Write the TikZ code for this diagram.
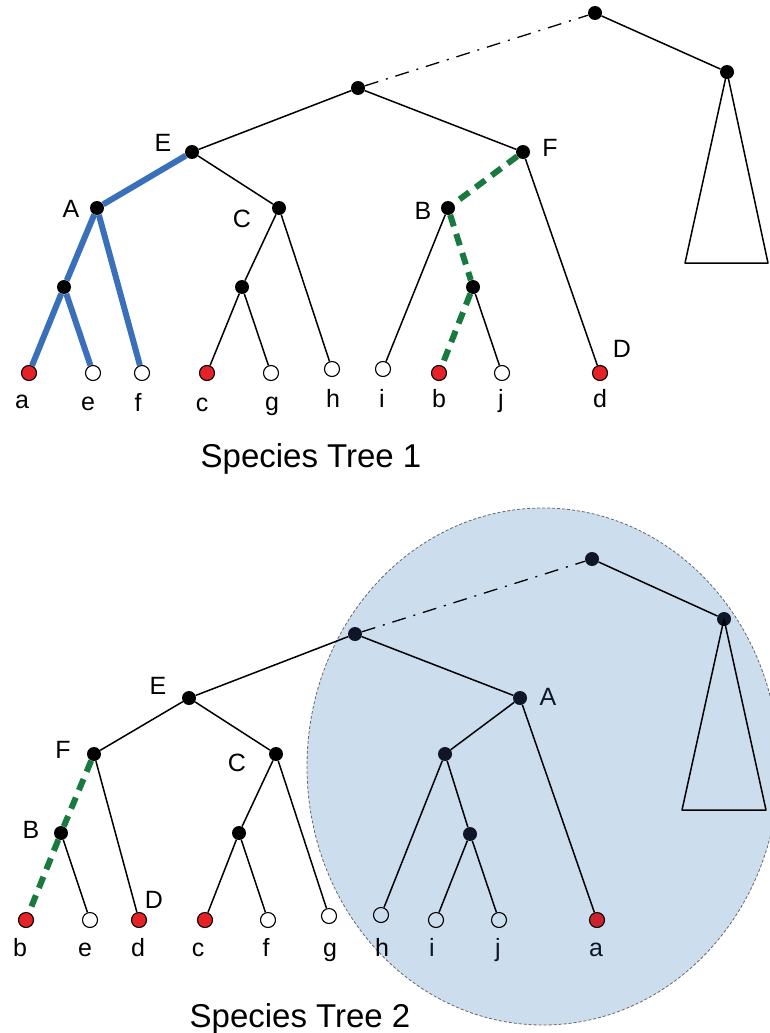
\documentclass[tikz,border=0pt]{standalone}
\usepackage{fontspec}
\setmainfont{Liberation Sans}
\usepackage{xcolor}
\usepackage{tikz}
\usetikzlibrary{positioning, arrows.meta, calc}
\definecolor{leafred}{HTML}{E52228}
\definecolor{pathblue}{HTML}{3A70BA}
\definecolor{pathgreen}{HTML}{187A3E}
\definecolor{hlfill}{HTML}{CCDDEE}
\definecolor{hlred}{HTML}{CD2230}
\definecolor{hlnavy}{HTML}{0E1628}

\begin{document}
\begin{tikzpicture}[x=1pt, y=-1pt,
    inner/.style={circle, fill=black, inner sep=0pt, minimum size=14pt},
    innerhl/.style={inner, fill=hlnavy},
    leaf/.style={circle, draw=black, line width=1.1pt, fill=white, inner sep=0pt, minimum size=15pt},
    leafhl/.style={leaf, fill=hlfill},
    hit/.style={leaf, fill=leafred},
    hithl/.style={leaf, fill=hlred},
    br/.style={line width=1.5pt, line join=round},
    blueline/.style={line width=6pt, pathblue},
    greenline/.style={line width=6pt, pathgreen, dash pattern=on 12pt off 8pt},
    link/.style={line width=1.3pt, dash pattern=on 14pt off 8pt on 2pt off 8pt},
    lab/.style={anchor=base, inner sep=0pt, font=\fontsize{25}{30}\selectfont},
    title/.style={anchor=base, inner sep=0pt, font=\fontsize{33}{40}\selectfont}
]
    \useasboundingbox (0,0) rectangle (769,1033);
    % Species Tree 1
    \node[inner] (s1top) at (595, 13) {};
    \node[inner] (s1R) at (727, 72) {};
    \coordinate (s1tl) at (685, 263);
    \coordinate (s1tr) at (768, 263);
    \node[inner] (s1root) at (358, 88) {};
    \node[inner] (s1E) at (192, 152) {};
    \node[inner] (s1F) at (523, 152) {};
    \node[inner] (s1A) at (97, 208) {};
    \node[inner] (s1C) at (279, 208) {};
    \node[inner] (s1B) at (448, 208) {};
    \node[inner] (s1Ac) at (64, 287) {};
    \node[inner] (s1Cc) at (242, 287) {};
    \node[inner] (s1Bc) at (473, 287) {};
    \node[hit] (s1a) at (29, 373) {};
    \node[leaf] (s1e) at (93, 373) {};
    \node[leaf] (s1f) at (142, 373) {};
    \node[hit] (s1c) at (207, 373) {};
    \node[leaf] (s1g) at (271, 373) {};
    \node[leaf] (s1h) at (332, 369) {};
    \node[leaf] (s1i) at (383, 369) {};
    \node[hit] (s1b) at (439, 373) {};
    \node[leaf] (s1j) at (502, 373) {};
    \node[hit] (s1d) at (600, 373) {};
    \draw[br] (s1top) -- (s1R);
    \draw[br] (s1R.center) -- (s1tl) -- (s1tr) -- cycle;
    \draw[link] (s1root) -- (s1top);
    \draw[br] (s1root) -- (s1E);
    \draw[br] (s1root) -- (s1F);
    \draw[br] (s1E) -- (s1C);
    \draw[br] (s1C) -- (s1Cc);
    \draw[br] (s1C) -- (s1h);
    \draw[br] (s1Cc) -- (s1c);
    \draw[br] (s1Cc) -- (s1g);
    \draw[br] (s1F) -- (s1d);
    \draw[br] (s1B) -- (s1i);
    \draw[br] (s1Bc) -- (s1j);
    \draw[blueline] (s1E) -- (s1A);
    \draw[blueline] (s1A) -- (s1Ac);
    \draw[blueline] (s1A) -- (s1f);
    \draw[blueline] (s1Ac) -- (s1a);
    \draw[blueline] (s1Ac) -- (s1e);
    \draw[greenline] (s1F) -- (s1B);
    \draw[greenline] (s1B) -- (s1Bc);
    \draw[greenline] (s1Bc) -- (s1b);
    \node[lab] (s1labE) at (163, 151) {E};
    \node[lab] (s1labA) at (71, 217) {A};
    \node[lab] (s1labC) at (242, 227) {C};
    \node[lab] (s1labB) at (423, 219) {B};
    \node[lab] (s1labF) at (550, 156) {F};
    \node[lab] (s1labD) at (622, 357) {D};
    \node[lab] (s1laba) at (22, 408) {a};
    \node[lab] (s1labe) at (88, 410) {e};
    \node[lab] (s1labf) at (138, 411) {f};
    \node[lab] (s1labc) at (202, 411) {c};
    \node[lab] (s1labg) at (272, 410) {g};
    \node[lab] (s1labh) at (333, 407) {h};
    \node[lab] (s1labi) at (382, 407) {i};
    \node[lab] (s1labb) at (439, 407) {b};
    \node[lab] (s1labj) at (501, 407) {j};
    \node[lab] (s1labd) at (600, 407) {d};
    \node[title] (title1) at (311, 467) {Species Tree 1};
    % transferred subtree
    \draw[black!60, fill=hlfill, line width=0.8pt, dash pattern=on 3pt off 2pt] (543, 766.5) ellipse [x radius=236, y radius=258.5];
    % Species Tree 2
    \node[innerhl] (s2top) at (592, 559) {};
    \node[innerhl] (s2R) at (724, 619) {};
    \coordinate (s2tl) at (682, 810);
    \coordinate (s2tr) at (766, 810);
    \node[innerhl] (s2root) at (355, 634) {};
    \node[inner] (s2E) at (189, 698) {};
    \node[innerhl] (s2A) at (520, 698) {};
    \node[inner] (s2F) at (94, 754) {};
    \node[inner] (s2C) at (276, 754) {};
    \node[inner] (s2B) at (61, 833) {};
    \node[inner] (s2Cc) at (239, 833) {};
    \node[innerhl] (s2Ac) at (445, 754) {};
    \node[innerhl] (s2Ag) at (470, 834) {};
    \node[hit] (s2b) at (26, 920) {};
    \node[leaf] (s2e) at (90, 920) {};
    \node[hit] (s2d) at (139, 920) {};
    \node[hit] (s2c) at (205, 920) {};
    \node[leaf] (s2f) at (268, 920) {};
    \node[leaf] (s2g) at (329, 916) {};
    \node[leafhl] (s2h) at (381, 915) {};
    \node[leafhl] (s2i) at (436, 920) {};
    \node[leafhl] (s2j) at (499, 920) {};
    \node[hithl] (s2a) at (597, 920) {};
    \draw[br] (s2top) -- (s2R);
    \draw[br] (s2R.center) -- (s2tl) -- (s2tr) -- cycle;
    \draw[link] (s2root) -- (s2top);
    \draw[br] (s2root) -- (s2E);
    \draw[br] (s2root) -- (s2A);
    \draw[br] (s2E) -- (s2F);
    \draw[br] (s2E) -- (s2C);
    \draw[br] (s2F) -- (s2d);
    \draw[br] (s2B) -- (s2e);
    \draw[br] (s2C) -- (s2Cc);
    \draw[br] (s2C) -- (s2g);
    \draw[br] (s2Cc) -- (s2c);
    \draw[br] (s2Cc) -- (s2f);
    \draw[br] (s2A) -- (s2Ac);
    \draw[br] (s2A) -- (s2a);
    \draw[br] (s2Ac) -- (s2h);
    \draw[br] (s2Ac) -- (s2Ag);
    \draw[br] (s2Ag) -- (s2i);
    \draw[br] (s2Ag) -- (s2j);
    \draw[greenline] (s2F) -- (s2B);
    \draw[greenline] (s2B) -- (s2b);
    \node[lab] (s2labE) at (158, 694) {E};
    \node[lab] (s2labF) at (63, 758) {F};
    \node[lab] (s2labC) at (237, 771) {C};
    \node[lab] (s2labB) at (31, 838) {B};
    \node[lab] (s2labD) at (154, 908) {D};
    \node[lab, text=hlnavy] (s2labA) at (548, 705) {A};
    \node[lab] (s2labb) at (20, 956) {b};
    \node[lab] (s2labe) at (85, 956) {e};
    \node[lab] (s2labd) at (138, 956) {d};
    \node[lab] (s2labc) at (198, 956) {c};
    \node[lab] (s2labf) at (266, 956) {f};
    \node[lab] (s2labg) at (330, 956) {g};
    \node[lab] (s2labh) at (382, 956) {h};
    \node[lab, text=hlnavy] (s2labi) at (432, 956) {i};
    \node[lab, text=hlnavy] (s2labj) at (498, 956) {j};
    \node[lab, text=hlnavy] (s2laba) at (596, 956) {a};
    \node[title] (title2) at (300, 1027) {Species Tree 2};
\end{tikzpicture}
\end{document}
